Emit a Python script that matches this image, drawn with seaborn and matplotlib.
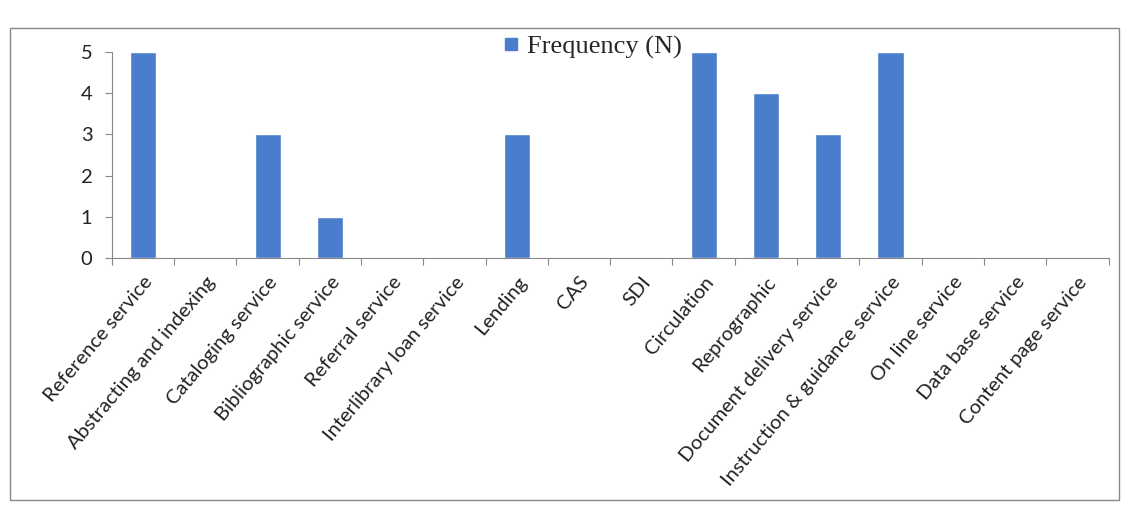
import matplotlib
matplotlib.use("Agg")
import matplotlib.pyplot as plt
from matplotlib.patches import Rectangle
import pandas as pd
import numpy as np
import seaborn as sns

services = ["Reference service", "Abstracting and indexing", "Cataloging service",
            "Bibliographic service", "Referral service", "Interlibrary loan service",
            "Lending", "CAS", "SDI", "Circulation", "Reprographic",
            "Document delivery service", "Instruction & guidance service",
            "On line service", "Data base service", "Content page service"]
frequency = [5, 0, 3, 1, 0, 0, 3, 0, 0, 5, 4, 3, 5, 0, 0, 0]

df = pd.DataFrame({"Service": services, "Frequency (N)": frequency})

sns.set_style("white")
plt.rcParams['font.family'] = ['Lato', 'DejaVu Sans']

fig = plt.figure(figsize=(11.3, 5.09), dpi=100)
ax = fig.add_axes([0.099, 0.493, 0.882, 0.405])

bar_color = "#4A7DCB"
sns.barplot(data=df, x="Service", y="Frequency (N)", color=bar_color,
            width=0.42, ax=ax, saturation=1)

ax.set_xlim(-0.5, len(services) - 0.5)
ax.set_ylim(0, 5)
ax.set_yticks(range(0, 6))
ax.set_xlabel("")
ax.set_ylabel("")

# category labels at centres, tick marks at the boundaries
ax.set_xticks(np.arange(len(services)))
ax.set_xticklabels(services, rotation=50, ha="right", rotation_mode="anchor",
                   fontsize=14.5, color="#222222")
ax.set_xticks(np.arange(len(services) + 1) - 0.5, minor=True)
ax.tick_params(axis="x", which="major", length=0, pad=11)
ax.tick_params(axis="x", which="minor", length=5, color="#888888", width=0.8,
               direction="out", bottom=True)
ax.tick_params(axis="y", length=5, color="#888888", width=0.8, direction="out",
               left=True, labelsize=14.5, pad=9, labelcolor="#222222")

for s in ["top", "right"]:
    ax.spines[s].set_visible(False)
for s in ["left", "bottom"]:
    ax.spines[s].set_color("#888888")
    ax.spines[s].set_linewidth(0.8)

handle = plt.Line2D([], [], marker="s", color="none", markerfacecolor=bar_color,
                    markeredgecolor=bar_color, markersize=9)
fig.legend([handle], ["Frequency (N)"], loc="center", bbox_to_anchor=(0.522, 0.908),
           frameon=False, handletextpad=0.1, handlelength=1.0,
           prop={"family": "Liberation Serif", "size": 19})

# outer chart frame
fig.patches.append(Rectangle((0.009, 0.018), 0.981, 0.927, transform=fig.transFigure,
                             fill=False, edgecolor="#888888", linewidth=1.0))

fig.savefig("out.png", dpi=100)
